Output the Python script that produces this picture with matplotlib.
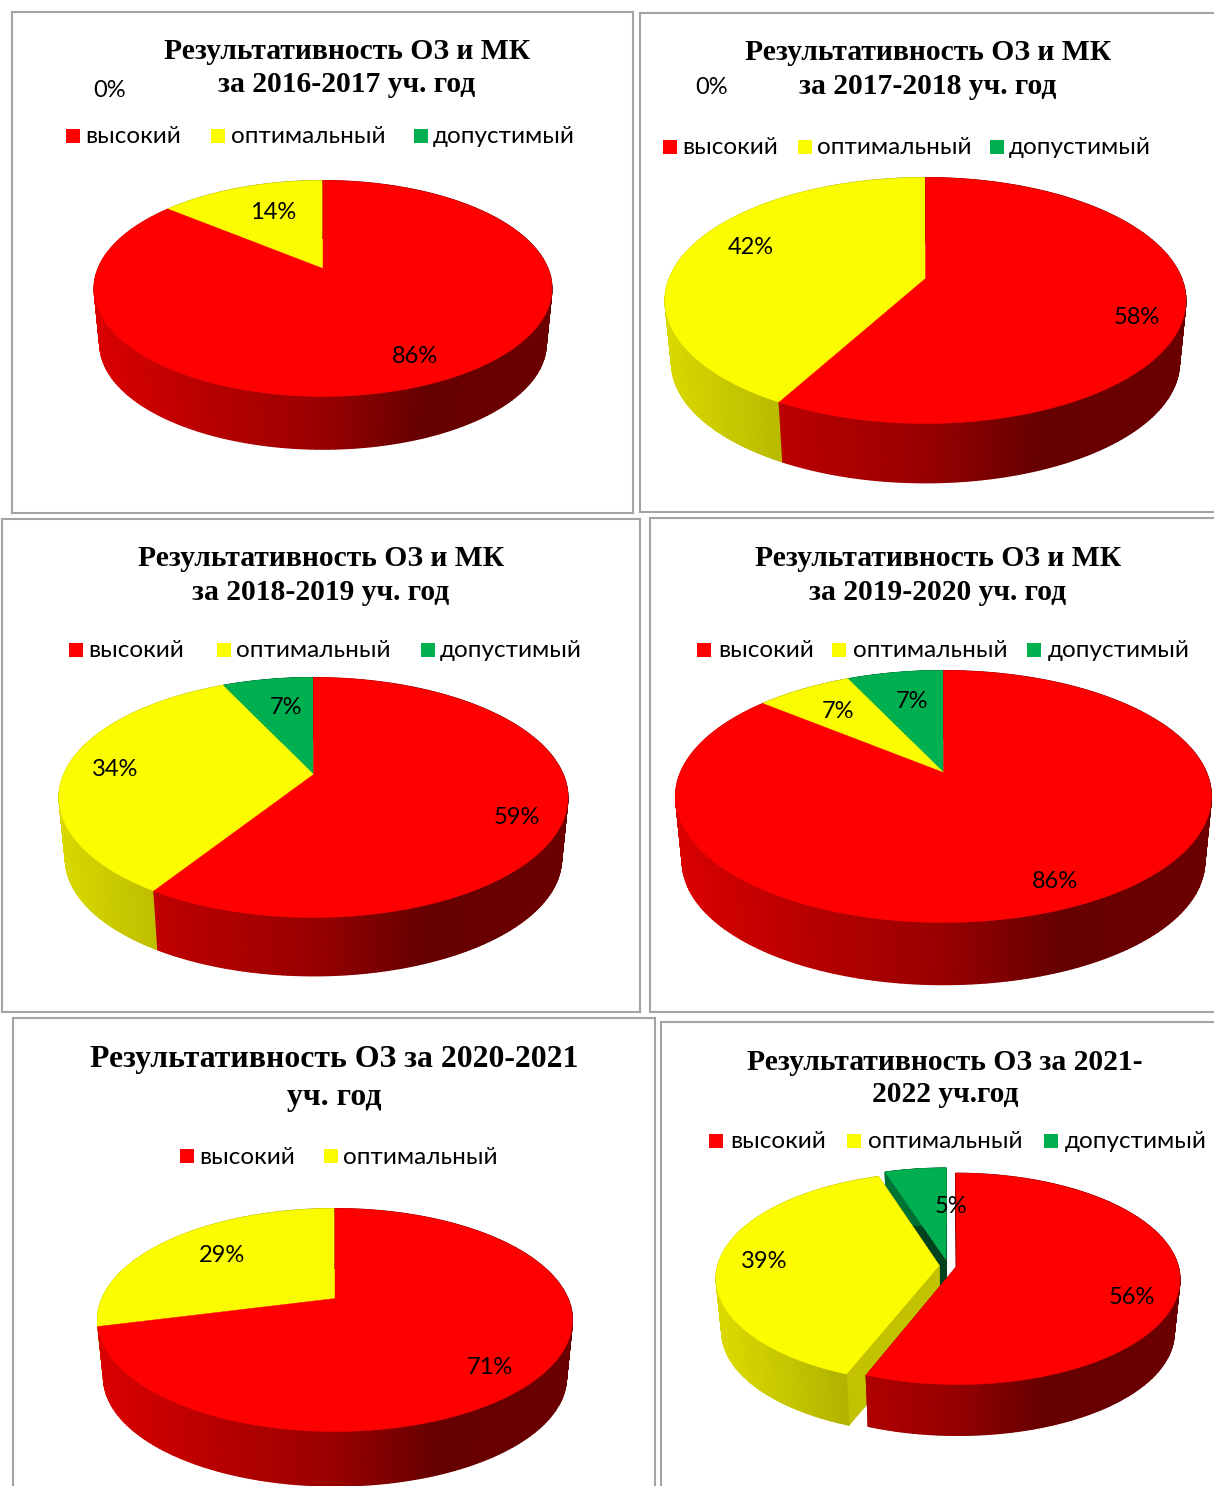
# -*- coding: utf-8 -*-
import numpy as np
import matplotlib
matplotlib.use('agg')
import matplotlib.pyplot as plt
from matplotlib.colors import to_rgb
from matplotlib.patches import Rectangle

W, H = 1214, 1486
SANS = ['Lato', 'Open Sans', 'DejaVu Sans']

categories = ['высокий', 'оптимальный', 'допустимый']
colors = ['#ff0000', '#fcfc00', '#00b050']
face_shade = [0.6, 0.77, 0.38]

titles = [
    'Результативность ОЗ и МК\nза 2016-2017 уч. год',
    'Результативность ОЗ и МК\nза 2017-2018 уч. год',
    'Результативность ОЗ и МК\nза 2018-2019 уч. год',
    'Результативность ОЗ и МК\nза 2019-2020 уч. год',
    'Результативность ОЗ за 2020-2021\nуч. год',
    'Результативность ОЗ за 2021-\n2022 уч.год',
]
shares_2016 = [86, 14, 0]
shares_2017 = [58, 42, 0]
shares_2018 = [59, 34, 7]
shares_2019 = [86, 7, 7]
shares_2020 = [71, 29]
shares_2021 = [56, 39, 5]
shares = [shares_2016, shares_2017, shares_2018, shares_2019, shares_2020, shares_2021]

# layout, page pixels
frames = [(12, 12, 633, 513), (640, 13, 1230, 512), (2, 519, 640, 1012),
          (650, 518, 1230, 1012), (13, 1018, 655, 1500), (661, 1022, 1230, 1500)]
# cx, cy, half width, near dist, far dist, depth
pies = [(323, 268.5, 229, 128, 88, 56), (925.5, 278.5, 260.5, 145, 101, 63),
        (313.5, 774.5, 254.5, 143, 97, 62), (943.5, 772.5, 268, 150, 102, 66),
        (335, 1298.5, 237.5, 133, 90, 58), (948, 1265.5, 223, 118, 93, 54)]
explodes = [None, None, None, None, None, [0.04, 0.04, 0.055]]
title_pos = [(347, 52, 85, 21.3), (928, 53, 87, 21.3), (321, 559, 593, 21.3),
             (938, 559, 593, 21.3), (334, 1060, 1098, 22.9), (945, 1063, 1095, 21.3)]
legend_pos = [(137, [66, 211, 414], [85, 231, 433]),
              (148, [663, 798, 990], [682, 817, 1009]),
              (651, [69, 217, 421], [88, 236, 440]),
              (651, [697, 832, 1027], [718, 853, 1048]),
              (1157, [180, 324], [199, 343]),
              (1142, [709, 847, 1044], [730, 868, 1065])]
label_pos = [[(415, 357), (273, 213), (110, 91)],
             [(1137, 318), (751, 248), (712, 88)],
             [(517, 818), (115, 770), (286, 708)],
             [(1055, 882), (838, 712), (912, 702)],
             [(490, 1368), (222, 1255)],
             [(1132, 1298), (764, 1262), (951, 1207)]]


def wall_shade(f):
    # side wall goes dark towards the right, like the Excel 3D pie
    return np.interp(f, [0, 0.25, 0.5, 0.72, 1], [0.86, 0.72, 0.6, 0.4, 0.42])


def draw_pie(ax, values, pie, explode):
    cx, cy, half, near, far, depth = pie
    k = (near - far) / (near + far)
    a = far * (1 + k)
    b = half * np.sqrt(1 - k * k)

    def project(x, y, lower=False):
        s = 0.975 if lower else 1.0
        d = 1 + k * y
        return cx + s * b * x / d, cy - s * a * y / d + (depth if lower else 0)

    edges = np.cumsum([0] + list(values)) / float(sum(values)) * 2 * np.pi
    for i in reversed(range(len(values))):
        if values[i] == 0:
            continue
        t = np.linspace(edges[i], edges[i + 1], 240)
        mid = (edges[i] + edges[i + 1]) / 2
        e = explode[i] if explode else 0
        ox, oy = e * np.sin(mid), e * np.cos(mid)
        rim_x, rim_y = np.sin(t) + ox, np.cos(t) + oy
        rgb = np.array(to_rgb(colors[i]))

        # cut faces only show on pulled out slices
        if explode:
            for n in (0, -1):
                px = np.array([ox, rim_x[n]])
                py = np.array([oy, rim_y[n]])
                ux, uy = project(px, py)
                lx, ly = project(px, py, True)
                ax.fill([ux[0], ux[1], lx[1], lx[0]], [uy[0], uy[1], ly[1], ly[0]],
                        color=rgb * face_shade[i], lw=0.6, zorder=2)

        # outer wall, shading follows x
        tx, ty = project(rim_x, rim_y)
        bx, by = project(rim_x, rim_y, True)
        shade = wall_shade((tx - cx + half) / (2 * half))
        mesh_c = np.outer(shade, rgb)[np.newaxis, :, :].repeat(2, axis=0)
        ax.pcolormesh(np.vstack([tx, bx]), np.vstack([ty, by]), mesh_c,
                      shading='gouraud', zorder=2)

        top_x, top_y = project(np.r_[ox, rim_x], np.r_[oy, rim_y])
        ax.fill(top_x, top_y, color=colors[i], lw=0.3, zorder=2)


fig = plt.figure(figsize=(W / 100.0, H / 100.0), dpi=100, facecolor='white')

for n in range(6):
    x0, y0, x1, y1 = frames[n]
    ax = fig.add_axes([x0 / W, 1 - y1 / H, (x1 - x0) / W, (y1 - y0) / H])
    draw_pie(ax, shares[n], pies[n], explodes[n])
    ax.set_xlim(x0, x1)
    ax.set_ylim(y1, y0)
    ax.set_xticks([])
    ax.set_yticks([])
    for s in ax.spines.values():
        s.set_color('#a3a3a3')
        s.set_linewidth(1.5)

    tx, ty1, ty2, tsize = title_pos[n]
    line1, line2 = titles[n].split('\n')
    for line, ty in ((line1, ty1), (line2, ty2)):
        ax.text(tx, ty, line, ha='center', va='center', fontsize=tsize,
                fontweight='bold', family='Liberation Serif', color='black', zorder=5)

    ly, squares, names = legend_pos[n]
    for i in range(len(squares)):
        ax.add_patch(Rectangle((squares[i], ly - 8), 14, 14, facecolor=colors[i],
                               edgecolor='none', zorder=5))
        ax.text(names[i], ly, categories[i], ha='left', va='center', fontsize=17.5,
                family=SANS, color='black', zorder=5)

    for i, v in enumerate(shares[n]):
        lx, lby = label_pos[n][i]
        ax.text(lx, lby, '%d%%' % v, ha='center', va='center', fontsize=17,
                family=SANS, color='black', zorder=6)

fig.savefig('out.png', dpi=100)
